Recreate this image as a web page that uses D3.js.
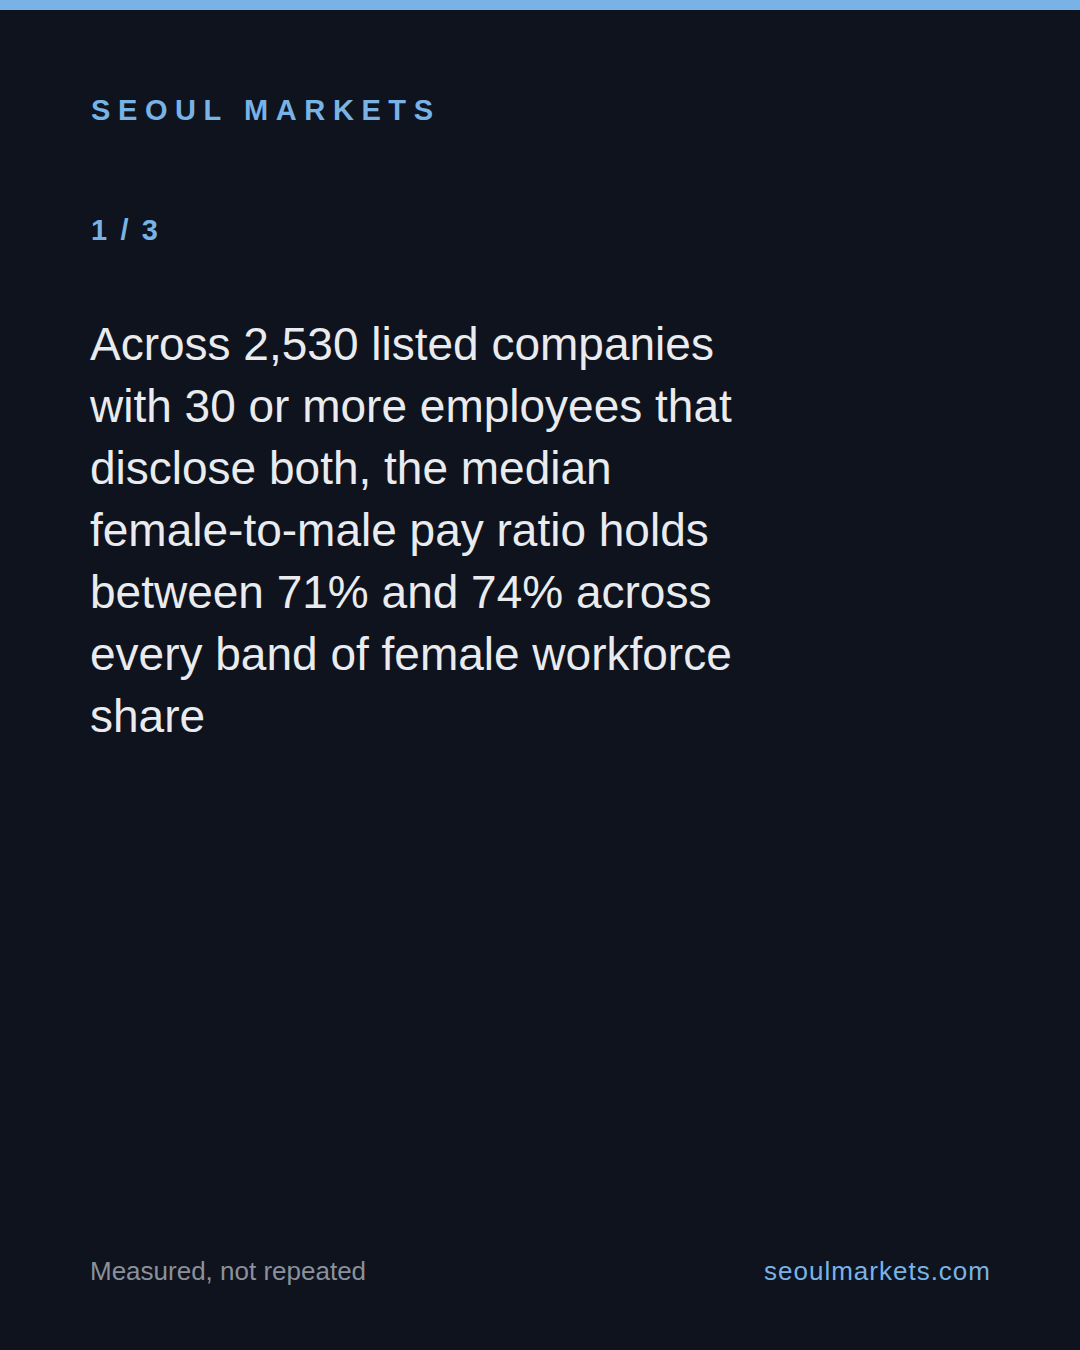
<!DOCTYPE html>
<html>
<head>
<meta charset="utf-8">
<script src="https://cdn.jsdelivr.net/npm/d3@7"></script>
<style>
  html, body { margin: 0; padding: 0; background: #0e131e; }
  #vis svg { display: block; }
</style>
</head>
<body>
<div id="vis"></div>
<script>
// slide texts
const brand = "SEOUL MARKETS";
const pageLabel = "1 / 3";
const headlineLines = [
    "Across 2,530 listed companies",
    "with 30 or more employees that",
    "disclose both, the median",
    "female-to-male pay ratio holds",
    "between 71% and 74% across",
    "every band of female workforce",
    "share"
];
const footerLeft = "Measured, not repeated";
const footerRight = "seoulmarkets.com";

const width = 1080, height = 1350;
const left = 91, right = 990;
const accent = "#79b3e6";
const font = "'Liberation Sans', Arial, Helvetica, sans-serif";

const svg = d3.select("#vis").append("svg")
    .attr("width", width)
    .attr("height", height);

// background and top bar
svg.append("rect")
    .attr("width", width)
    .attr("height", height)
    .attr("fill", "#0e131e");

svg.append("rect")
    .attr("width", width)
    .attr("height", 10)
    .attr("fill", accent);

// brand
svg.append("text")
    .attr("x", left)
    .attr("y", 120)
    .attr("fill", accent)
    .style("font-family", font)
    .style("font-size", "29px")
    .style("font-weight", "bold")
    .style("letter-spacing", "7.6px")
    .text(brand);

// page counter
svg.append("text")
    .attr("x", left)
    .attr("y", 240)
    .attr("fill", accent)
    .style("font-family", font)
    .style("font-size", "29px")
    .style("font-weight", "bold")
    .style("letter-spacing", "2.6px")
    .text(pageLabel);

// headline, one line per entry
const y = d3.scaleLinear()
    .domain([0, 1])
    .range([360, 422]);

svg.append("g").selectAll("text")
    .data(headlineLines)
  .enter().append("text")
    .attr("x", left - 1)
    .attr("y", (d, i) => y(i))
    .attr("fill", "#e9ebef")
    .style("font-family", font)
    .style("font-size", "46px")
    .text(d => d);

// footer
svg.append("text")
    .attr("x", left - 1)
    .attr("y", 1280)
    .attr("fill", "#8a919c")
    .style("font-family", font)
    .style("font-size", "26px")
    .text(footerLeft);

svg.append("text")
    .attr("x", right + 1)
    .attr("y", 1280)
    .attr("text-anchor", "end")
    .attr("fill", accent)
    .style("font-family", font)
    .style("font-size", "26px")
    .style("letter-spacing", "1px")
    .text(footerRight);
</script>
</body>
</html>
